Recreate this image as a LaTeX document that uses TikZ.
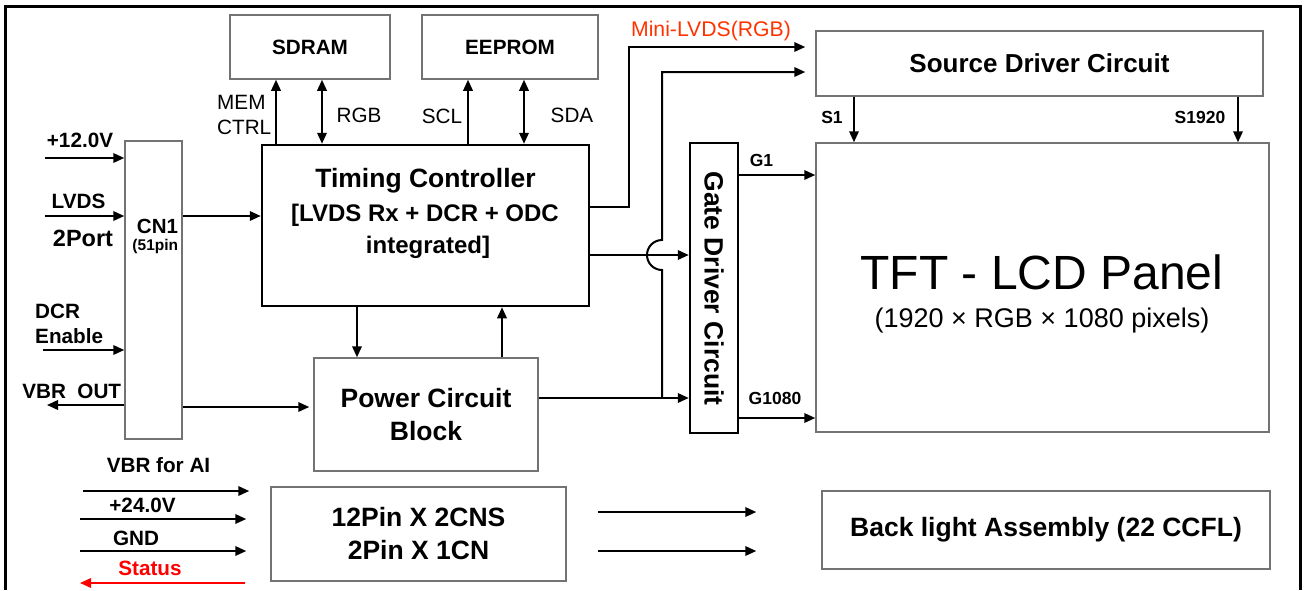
\documentclass[tikz,border=0pt]{standalone}
\usepackage{fontspec}
\setmainfont{Liberation Sans}
\usetikzlibrary{arrows.meta, positioning, calc}
\definecolor{boxgray}{RGB}{115,115,115}
\definecolor{lvdsorange}{RGB}{255,51,0}
\definecolor{statusred}{RGB}{255,0,0}

\begin{document}
\begin{tikzpicture}[x=1pt, y=-1pt,
        blk/.style={rectangle, draw=boxgray, line width=1.5pt, inner sep=0pt, align=center, font=\fontsize{26.5}{33}\selectfont\bfseries},
        blkthick/.style={blk, draw=black, line width=2.5pt},
        lbl/.style={inner sep=0pt, text height=14.8pt, text depth=0pt, font=\fontsize{20.7}{24}\selectfont\bfseries},
        thinlbl/.style={lbl, font=\fontsize{20.7}{24}\selectfont},
        pinlbl/.style={lbl, text height=12.5pt, font=\fontsize{17.5}{20}\selectfont\bfseries},
        arrow/.style={-{Triangle[length=11pt, width=9.5pt]}, line width=2pt},
        biarrow/.style={{Triangle[length=11pt, width=9.5pt]}-{Triangle[length=11pt, width=9.5pt]}, line width=2pt}
    ]
        \useasboundingbox (0,0) rectangle (1307,590);
        \draw[line width=3pt] (5,590) -- (5,6) -- (1300,6) -- (1300,590);

        % blocks
        \node[blk, minimum width=160pt, minimum height=64pt, font=\fontsize{20.7}{24}\selectfont\bfseries] (sdram) at (310,47) {SDRAM};
        \node[blk, minimum width=176pt, minimum height=64pt, font=\fontsize{20.7}{24}\selectfont\bfseries] (eeprom) at (510,47) {EEPROM};
        \node[blkthick, minimum width=327pt, minimum height=161pt] (tcon) at (425.5,225.5) {};
        \node[blk, minimum width=57pt, minimum height=298pt] (cn1) at (153.5,290) {};
        \node[blk, minimum width=224pt, minimum height=113pt] (power) at (426,414.5) {Power Circuit\\Block};
        \node[blk, minimum width=295pt, minimum height=94pt] (conn) at (418.5,534) {12Pin X 2CNS\\2Pin X 1CN};
        \node[blk, minimum width=448pt, minimum height=78pt] (backlight) at (1046,530) {Back light Assembly (22 CCFL)};
        \node[blk, minimum width=447pt, minimum height=65pt, font=\fontsize{26}{30}\selectfont\bfseries] (source) at (1039.5,63.5) {Source Driver Circuit};
        \node[blk, minimum width=453pt, minimum height=289pt] (panel) at (1042.5,287.5) {};
        \node[blkthick, minimum width=48pt, minimum height=290pt] (gate) at (714,288) {};

        % texts inside blocks
        \node[lbl, text height=19pt, font=\fontsize{26.5}{30}\selectfont\bfseries] (tctitle) at (425.5,178) {Timing Controller};
        \node[lbl, text height=17.2pt, font=\fontsize{24}{28}\selectfont\bfseries] (tcsub) at (425,213) {[LVDS Rx + DCR + ODC};
        \node[lbl, text height=17.2pt, font=\fontsize{24}{28}\selectfont\bfseries] (tcint) at (428,245) {integrated]};
        \node[lbl, font=\fontsize{20.5}{24}\selectfont\bfseries] (cn1lbl) at (157.5,226) {CN1};
        \node[lbl, text height=11.1pt, font=\fontsize{15.5}{18}\selectfont\bfseries] (cn1pin) at (155.3,245) {(51pin};
        \node[lbl, text height=19pt, font=\fontsize{26.5}{30}\selectfont\bfseries, rotate=-90] (gatelbl) at (714,288.5) {Gate Driver Circuit};
        \node[thinlbl, text height=34.4pt, font=\fontsize{48}{52}\selectfont] (paneltitle) at (1042,272) {TFT - LCD Panel};
        \node[thinlbl, text height=19.3pt, font=\fontsize{27}{30}\selectfont] (panelsub) at (1042,318) {(1920 × RGB × 1080 pixels)};

        % labels
        \node[thinlbl, anchor=west] (memlbl) at (217,102) {MEM};
        \node[thinlbl, anchor=west] (ctrllbl) at (217,127) {CTRL};
        \node[thinlbl] (rgblbl) at (359,115) {RGB};
        \node[thinlbl] (scllbl) at (442,116) {SCL};
        \node[thinlbl] (sdalbl) at (572,115) {SDA};
        \node[thinlbl, text height=15.2pt, font=\fontsize{21.2}{24}\selectfont, text=lvdsorange] (minilbl) at (711,29) {Mini-LVDS(RGB)};
        \node[lbl] (v12lbl) at (80,140) {+12.0V};
        \node[lbl] (lvdslbl) at (78.5,201.5) {LVDS};
        \node[lbl, text height=16.8pt, font=\fontsize{23.5}{26}\selectfont\bfseries] (portlbl) at (83,238) {2Port};
        \node[lbl, anchor=west] (dcrlbl) at (35,311) {DCR};
        \node[lbl, anchor=west] (enlbl) at (35,336.5) {Enable};
        \node[lbl] (vbroutlbl) at (71.7,391) {VBR\ \ OUT};
        \node[lbl] (vbrailbl) at (158.5,465) {VBR for AI};
        \node[lbl] (v24lbl) at (142.5,505) {+24.0V};
        \node[lbl] (gndlbl) at (136,538) {GND};
        \node[lbl, text=statusred] (statlbl) at (150,568) {Status};
        \node[pinlbl] (s1lbl) at (832,117) {S1};
        \node[pinlbl] (s1920lbl) at (1200,117) {S1920};
        \node[pinlbl] (g1lbl) at (761.5,160) {G1};
        \node[pinlbl] (g1080lbl) at (775,398.5) {G1080};

        % helper coordinates
        \coordinate (xmem) at (276,0);
        \coordinate (xrgb) at (322,0);
        \coordinate (xscl) at (468,0);
        \coordinate (xsda) at (524,0);
        \coordinate (xdown) at (357,0);
        \coordinate (xup) at (502,0);
        \coordinate (xs1) at (854,0);
        \coordinate (xs1920) at (1238,0);
        \coordinate (ymini) at (0,207);
        \coordinate (ysrc) at (0,72);
        \coordinate (ytg) at (0,255);
        \coordinate (yg1) at (0,175);
        \coordinate (yg1080) at (0,418);
        \coordinate (yb1) at (0,512);
        \coordinate (yb2) at (0,551);
        \coordinate (mini) at (629,47);
        \coordinate (pj) at (662,398);
        \coordinate (pwin) at ([yshift=7.5pt]power.west);
        \coordinate (v12) at (45,158);
        \coordinate (lvds) at (45,216);
        \coordinate (dcr) at (43,350);
        \coordinate (vbrout) at (47,405);
        \coordinate (vbrai) at (83,491);
        \coordinate (v24) at (80,519);
        \coordinate (gnd) at (80,551);
        \coordinate (stat) at (80,583);

        % memory buses
        \draw[arrow] (tcon.north -| xmem) -- (sdram.south -| xmem);
        \draw[biarrow] (tcon.north -| xrgb) -- (sdram.south -| xrgb);
        \draw[arrow] (tcon.north -| xscl) -- (eeprom.south -| xscl);
        \draw[biarrow] (tcon.north -| xsda) -- (eeprom.south -| xsda);

        % connector side
        \draw[arrow] (v12) -- (v12 -| cn1.west);
        \draw[arrow] (lvds) -- (lvds -| cn1.west);
        \draw[arrow] (dcr) -- (dcr -| cn1.west);
        \draw[arrow] (vbrout -| cn1.west) -- (vbrout);
        \draw[arrow] (cn1.east |- lvds) -- (tcon.west |- lvds);
        \draw[arrow, shorten >=4pt] (cn1.east |- pwin) -- (pwin);

        % timing controller and power
        \draw[arrow] (tcon.south -| xdown) -- (power.north -| xdown);
        \draw[arrow] (power.north -| xup) -- (tcon.south -| xup);
        \draw[arrow, shorten >=10pt] (tcon.east |- ymini) -| (mini) -- (mini -| source.west);
        \draw[arrow] (tcon.east |- ytg) -- (gate.west |- ytg);
        \draw[arrow] (power.east |- pj) -- (gate.west |- pj);
        \draw[arrow, shorten >=10pt] (pj) -- ++(0,-128) arc[start angle=90, end angle=270, radius=15] |- (source.west |- ysrc);

        % panel drivers
        \draw[arrow] (source.south -| xs1) -- (panel.north -| xs1);
        \draw[arrow] (source.south -| xs1920) -- (panel.north -| xs1920);
        \draw[arrow] (gate.east |- yg1) -- (panel.west |- yg1);
        \draw[arrow] (gate.east |- yg1080) -- (panel.west |- yg1080);

        % backlight inverter
        \draw[arrow, shorten >=21pt] (vbrai) -- (vbrai -| conn.west);
        \draw[arrow, shorten >=24pt] (v24) -- (v24 -| conn.west);
        \draw[arrow, shorten >=24pt] (gnd) -- (gnd -| conn.west);
        \draw[arrow, draw=statusred, fill=statusred, shorten <=25pt] (stat -| conn.west) -- (stat);
        \draw[arrow, shorten <=31pt, shorten >=65pt] (conn.east |- yb1) -- (backlight.west |- yb1);
        \draw[arrow, shorten <=31pt, shorten >=65pt] (conn.east |- yb2) -- (backlight.west |- yb2);
    \end{tikzpicture}
\end{document}
